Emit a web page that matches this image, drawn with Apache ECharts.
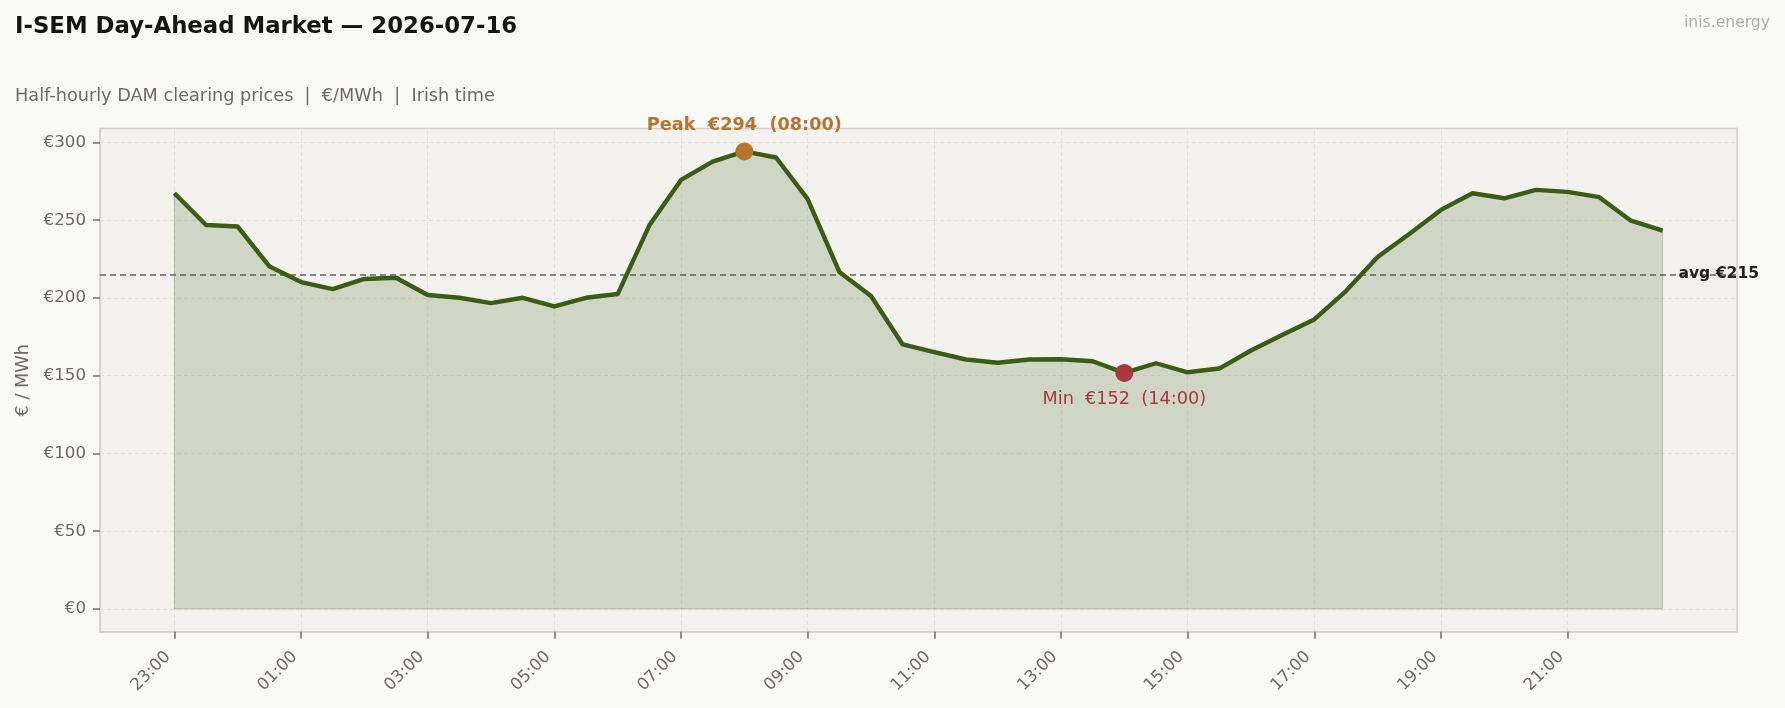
<!DOCTYPE html>
<html>
<head>
<meta charset="utf-8">
<script src="https://cdn.jsdelivr.net/npm/echarts@6/dist/echarts.min.js"></script>
<style>
html,body{margin:0;padding:0;background:#f9f9f7;}
#chart{width:1785px;height:708px;}
</style>
</head>
<body>
<div id="chart"></div>
<script>
const times = ["23:00","23:30","00:00","00:30","01:00","01:30","02:00","02:30","03:00","03:30",
  "04:00","04:30","05:00","05:30","06:00","06:30","07:00","07:30","08:00","08:30",
  "09:00","09:30","10:00","10:30","11:00","11:30","12:00","12:30","13:00","13:30",
  "14:00","14:30","15:00","15:30","16:00","16:30","17:00","17:30","18:00","18:30",
  "19:00","19:30","20:00","20:30","21:00","21:30","22:00","22:30"];
const prices = [267.3, 246.9, 245.9, 220.3, 210.2, 205.7, 212.2, 213.0, 201.9, 200.1,
  196.7, 200.1, 194.5, 200.1, 202.5, 246.7, 275.9, 287.7, 294.2, 290.3,
  263.5, 216.7, 201.2, 170.1, 165.1, 160.4, 158.3, 160.4, 160.6, 159.3,
  151.8, 158.0, 152.2, 154.6, 166.2, 176.3, 186.2, 204.4, 226.3, 241.1,
  256.6, 267.3, 264.1, 269.5, 268.2, 264.8, 249.7, 243.3];
const xTickIdx = [0,4,8,12,16,20,24,28,32,36,40,44];
const yTicks = [0,50,100,150,200,250,300];

const font = 'DejaVu Sans';
const gray = '#6e6a66';
const green = '#3a5c14';
const peakColor = '#b8732e';
const minColor = '#a83a3e';
const frame = '#d3cfc8';
const tickColor = '#7a756f';

let peakIdx = 0, minIdx = 0;
prices.forEach((v,i)=>{ if (v > prices[peakIdx]) peakIdx = i; if (v < prices[minIdx]) minIdx = i; });
const avg = prices.reduce((a,b)=>a+b,0) / prices.length;
const last = prices.length - 1;

const chart = echarts.init(document.getElementById('chart'));
const gridLineStyle = {type:[4,3], color:'#e4e1db', width:1};

chart.setOption({
  backgroundColor: '#f9f9f7',
  textStyle: {fontFamily: font},
  animation: false,
  title: [
    {text: 'I-SEM Day-Ahead Market — 2026-07-16', left: 15, top: 16, padding: 0,
     textStyle: {fontFamily: font, fontWeight: 'bold', fontSize: 22.8, color: '#151515'}},
    {text: 'Half-hourly DAM clearing prices  |  €/MWh  |  Irish time', left: 15, top: 87, padding: 0,
     textStyle: {fontFamily: font, fontWeight: 'normal', fontSize: 17.7, color: gray}},
    {text: 'inis.energy', right: 15, top: 15, padding: 0,
     textStyle: {fontFamily: font, fontWeight: 'normal', fontSize: 15.6, color: '#b0aeab'}}
  ],
  grid: {left: 100, top: 128.6, right: 48, bottom: 76.2, show: true,
         backgroundColor: '#f3f2ef', borderColor: frame, borderWidth: 1.5},
  xAxis: {
    type: 'value', min: -2.35, max: 49.35,
    axisLine: {show: true, onZero: false, lineStyle: {color: frame, width: 1.5}},
    splitLine: {show: false},
    axisTick: {show: true, inside: false, length: 7, lineStyle: {color: tickColor, width: 1.6}, customValues: xTickIdx},
    axisLabel: {customValues: xTickIdx, rotate: 45, margin: 16, padding: [0, 9, 0, 0], color: gray, fontSize: 16.7,
                fontFamily: font, formatter: v => times[v]}
  },
  yAxis: {
    type: 'value', min: -14.7, max: 308.9,
    name: '€ / MWh', nameLocation: 'middle', nameGap: 68,
    nameTextStyle: {color: gray, fontSize: 17.7, fontFamily: font},
    axisLine: {show: true, onZero: false, lineStyle: {color: frame, width: 1.5}},
    splitLine: {show: false},
    axisTick: {show: true, inside: false, length: 7, lineStyle: {color: tickColor, width: 1.6}, customValues: yTicks},
    axisLabel: {customValues: yTicks, margin: 14, color: gray, fontSize: 16.7, fontFamily: font,
                formatter: v => '€' + v}
  },
  series: [
    {
      type: 'line', data: [], silent: true, z: 1,
      markLine: {
        silent: true, symbol: 'none', label: {show: false}, animation: false, z: 0,
        lineStyle: gridLineStyle,
        data: xTickIdx.map(v => ({xAxis: v})).concat(yTicks.map(v => ({yAxis: v})))
      }
    },
    {
      type: 'line', z: 2, silent: true, showSymbol: false, symbol: 'none',
      data: [[0, prices[0]], [0, 0], [last, 0], [last, prices[last]]],
      lineStyle: {color: 'rgba(59,94,21,0.22)', width: 1.3}
    },
    {
      type: 'line', z: 3,
      data: prices.map((v,i)=>[i,v]),
      showSymbol: false, symbol: 'none',
      lineStyle: {color: green, width: 4.4, join: 'round'},
      areaStyle: {color: 'rgba(59,94,21,0.19)', opacity: 1, origin: 'auto'},
      markLine: {
        silent: true, symbol: 'none', z: 2,
        lineStyle: {type: [6,4], color: '#666360', width: 1.5},
        label: {show: false},
        data: [{yAxis: avg}]
      },
      markPoint: {
        silent: true, symbol: 'circle', symbolSize: 0,
        data: [{coord: [47.5, avg], value: avg}],
        label: {show: true, position: 'inside', align: 'left', verticalAlign: 'middle',
                formatter: 'avg €' + Math.round(avg), color: '#222', fontWeight: 'bold',
                fontSize: 15.6, fontFamily: font}
      }
    },
    {
      type: 'scatter', z: 5, symbolSize: 18,
      data: [[peakIdx, prices[peakIdx]]],
      itemStyle: {color: peakColor, opacity: 1},
      label: {show: true, position: 'inside', offset: [0, -26.5],
              formatter: 'Peak  €' + Math.round(prices[peakIdx]) + '  (' + times[peakIdx] + ')',
              color: peakColor, fontWeight: 'bold', fontSize: 17.7, fontFamily: font}
    },
    {
      type: 'scatter', z: 5, symbolSize: 18,
      data: [[minIdx, prices[minIdx]]],
      itemStyle: {color: minColor, opacity: 1},
      label: {show: true, position: 'inside', offset: [0, 27],
              formatter: 'Min  €' + Math.round(prices[minIdx]) + '  (' + times[minIdx] + ')',
              color: minColor, fontWeight: 'normal', fontSize: 17.7, fontFamily: font}
    }
  ]
});
</script>
</body>
</html>
